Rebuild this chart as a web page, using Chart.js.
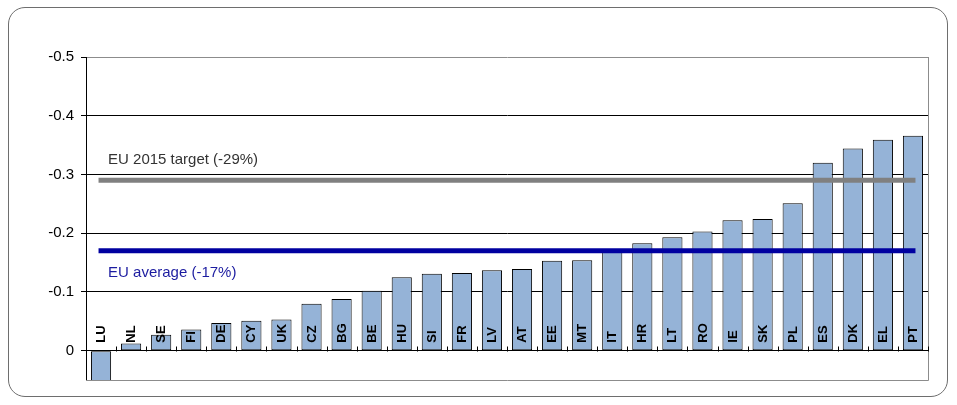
<!DOCTYPE html>
<html>
<head>
<meta charset="utf-8">
<script src="https://cdn.jsdelivr.net/npm/chart.js@4"></script>
<style>
  html, body { margin: 0; padding: 0; background: #fff; }
  #wrap { position: relative; width: 957px; height: 405px; }
  #frame {
    position: absolute; left: 8px; top: 7px; width: 938px; height: 388px;
    border: 1.5px solid #6e6e6e; border-radius: 17px;
  }
  #chart { position: absolute; left: 0; top: 0; }
</style>
</head>
<body>
<div id="wrap">
  <div id="frame"></div>
  <canvas id="chart" width="957" height="405"></canvas>
</div>
<script>
const countries = ["LU", "NL", "SE", "FI", "DE", "CY", "UK", "CZ", "BG", "BE", "HU", "SI", "FR", "LV",
  "AT", "EE", "MT", "IT", "HR", "LT", "RO", "IE", "SK", "PL", "ES", "DK", "EL", "PT"];

const values = [0.055, -0.012, -0.027, -0.036, -0.047, -0.051, -0.053, -0.080, -0.088, -0.102, -0.125,
  -0.131, -0.132, -0.137, -0.139, -0.153, -0.154, -0.172, -0.183, -0.193, -0.203, -0.222, -0.224,
  -0.251, -0.320, -0.344, -0.359, -0.366];

const yTicks = [-0.5, -0.4, -0.3, -0.2, -0.1, 0];
const yTickLabels = ["-0.5", "-0.4", "-0.3", "-0.2", "-0.1", "0"];

const targetValue = -0.29;
const targetLabel = "EU 2015 target (-29%)";
const averageValue = -0.17;
const averageLabel = "EU average (-17%)";

Chart.defaults.font.family = "'Liberation Sans', Arial, sans-serif";

// frame of the plot area, category ticks on the zero line, labels
const decorations = {
  id: "decorations",
  beforeDatasetsDraw(chart) {
    const { ctx, chartArea: a, scales } = chart;
    ctx.save();
    ctx.strokeStyle = "#8c8c8c";
    ctx.lineWidth = 1;
    ctx.beginPath();
    ctx.moveTo(a.left, a.bottom + 0.5);
    ctx.lineTo(a.right + 0.5, a.bottom + 0.5);
    ctx.lineTo(a.right + 0.5, a.top);
    ctx.stroke();

    // small ticks between categories, sitting on the zero line
    const y0 = Math.round(scales.y.getPixelForValue(0)) + 0.5;
    const step = scales.x.getPixelForValue(1) - scales.x.getPixelForValue(0);
    ctx.strokeStyle = "#000";
    ctx.beginPath();
    for (let i = 0; i <= countries.length; i++) {
      const x = Math.round(scales.x.getPixelForValue(i) - step / 2) + 0.5;
      ctx.moveTo(x, y0);
      ctx.lineTo(x, y0 - 5);
    }
    ctx.stroke();
    ctx.restore();
  },
  afterDatasetsDraw(chart) {
    const { ctx, scales } = chart;
    const y0 = scales.y.getPixelForValue(0);
    ctx.save();
    ctx.fillStyle = "#000";
    ctx.font = "bold 13px 'Liberation Sans', Arial, sans-serif";
    ctx.textAlign = "left";
    ctx.textBaseline = "middle";
    countries.forEach((c, i) => {
      const x = scales.x.getPixelForValue(i);
      ctx.save();
      ctx.translate(x + 0.5, y0 - 8);
      ctx.rotate(-Math.PI / 2);
      ctx.fillText(c, 0, 0);
      ctx.restore();
    });

    const xStart = scales.x.getPixelForValue(0) + 7;
    ctx.font = "15px 'Liberation Sans', Arial, sans-serif";
    ctx.fillStyle = "#333";
    ctx.fillText(targetLabel, xStart, scales.y.getPixelForValue(targetValue) - 20);
    ctx.fillStyle = "#1c1ca0";
    ctx.fillText(averageLabel, xStart, scales.y.getPixelForValue(averageValue) + 22);
    ctx.restore();
  }
};

new Chart(document.getElementById("chart"), {
  type: "bar",
  data: {
    labels: countries,
    datasets: [
      {
        type: "line",
        data: countries.map(() => targetValue),
        borderColor: "#808080",
        borderWidth: 5,
        borderCapStyle: "square",
        pointRadius: 0,
        order: 0
      },
      {
        type: "line",
        data: countries.map(() => averageValue),
        borderColor: "#0000a0",
        borderWidth: 5,
        borderCapStyle: "square",
        pointRadius: 0,
        order: 0
      },
      {
        data: values,
        backgroundColor: "#95b3d7",
        borderColor: "#000",
        borderWidth: 1,
        borderSkipped: false,
        barPercentage: 0.67,
        categoryPercentage: 1,
        order: 1
      }
    ]
  },
  options: {
    responsive: false,
    animation: false,
    layout: { padding: { left: 0, top: 57, right: 29, bottom: 25 } },
    plugins: {
      legend: { display: false },
      tooltip: { enabled: false }
    },
    scales: {
      x: { display: false, offset: true },
      y: {
        reverse: true,
        min: -0.5,
        max: 0.05,
        afterBuildTicks: (scale) => {
          scale.ticks = yTicks.map(v => ({ value: v }));
        },
        afterFit: (scale) => { scale.width = 86; },
        ticks: {
          color: "#000",
          padding: 7,
          font: { size: 15 },
          callback: (v, i) => yTickLabels[i]
        },
        grid: {
          color: (ctx) => (ctx.tick && ctx.tick.value === -0.5 ? "#8c8c8c" : "#000"),
          tickColor: "#000",
          tickLength: 5,
          lineWidth: 1
        },
        border: { color: "#000", width: 1 }
      }
    }
  },
  plugins: [decorations]
});
</script>
</body>
</html>
